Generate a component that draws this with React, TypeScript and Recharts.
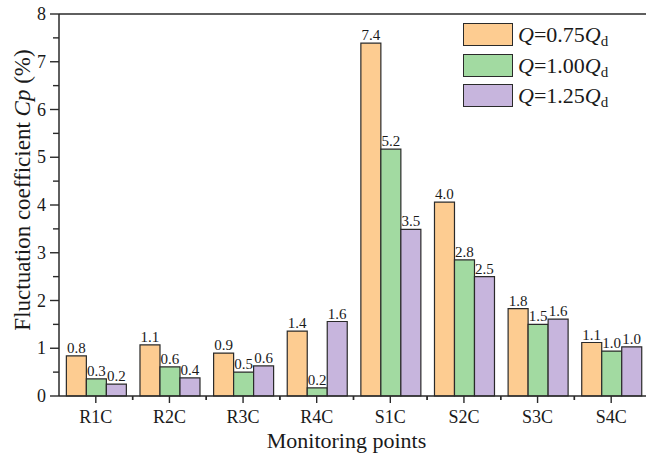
import React from 'react';
import { BarChart, Bar, XAxis, YAxis, LabelList, Legend, ReferenceLine } from 'recharts';

const categories = ['R1C', 'R2C', 'R3C', 'R4C', 'S1C', 'S2C', 'S3C', 'S4C'];
const q075 = [0.84, 1.07, 0.9, 1.36, 7.39, 4.06, 1.83, 1.12];
const q100 = [0.36, 0.61, 0.5, 0.17, 5.17, 2.85, 1.5, 0.94];
const q125 = [0.25, 0.38, 0.63, 1.56, 3.49, 2.5, 1.61, 1.03];
const q075Labels = ['0.8', '1.1', '0.9', '1.4', '7.4', '4.0', '1.8', '1.1'];
const q100Labels = ['0.3', '0.6', '0.5', '0.2', '5.2', '2.8', '1.5', '1.0'];
const q125Labels = ['0.2', '0.4', '0.6', '1.6', '3.5', '2.5', '1.6', '1.0'];
const yTicks = [0, 0.5, 1, 1.5, 2, 2.5, 3, 3.5, 4, 4.5, 5, 5.5, 6, 6.5, 7, 7.5, 8];
const seriesNames = ['0.75', '1.00', '1.25'];

const COLORS = ['#FDCC91', '#A2DAA1', '#C7B5DD'];
const STROKE = '#2a2a2a';
const FONT = '"Liberation Serif", "Times New Roman", serif';

const CHART_W = 660;
const CHART_H = 456;
const MARGIN = { top: 14, right: 12, left: 0, bottom: 0 };
const Y_W = 59;
const STEP = (CHART_W - MARGIN.left - MARGIN.right - Y_W) / categories.length;

const data = categories.map((c, i) => ({
  name: c,
  q075: q075[i],
  q100: q100[i],
  q125: q125[i],
  l075: q075Labels[i],
  l100: q100Labels[i],
  l125: q125Labels[i],
}));

const YTick = (props: any) => {
  const { x, y, payload } = props;
  const v = payload.value;
  const major = Number.isInteger(v);
  return (
    <g>
      <line x1={x - (major ? 9 : 6)} x2={x} y1={y} y2={y} stroke={STROKE} strokeWidth={1.4} />
      {major && (
        <text x={x - 13} y={y} textAnchor="end" dominantBaseline="central" fontFamily={FONT} fontSize={18} fill="#1a1a1a">
          {v}
        </text>
      )}
    </g>
  );
};

const XTick = (props: any) => {
  const { x, y, payload, index } = props;
  const half = STEP / 2;
  return (
    <g>
      <line x1={x} x2={x} y1={y} y2={y + 7} stroke={STROKE} strokeWidth={1.4} />
      {index > 0 && <line x1={x - half} x2={x - half} y1={y} y2={y + 4} stroke={STROKE} strokeWidth={1.4} />}
      <line x1={x + half} x2={x + half} y1={y} y2={y + 4} stroke={STROKE} strokeWidth={1.4} />
      <text x={x} y={y + 27} textAnchor="middle" fontFamily={FONT} fontSize={18} fill="#1a1a1a">
        {payload.value}
      </text>
    </g>
  );
};

const YLabel = (props: any) => {
  const vb = props.viewBox || { x: 0, y: 14, width: 59, height: 382 };
  const cx = 22;
  const cy = vb.y + vb.height / 2 - 15;
  return (
    <text
      x={cx}
      y={cy}
      transform={`rotate(-90, ${cx}, ${cy})`}
      textAnchor="middle"
      dominantBaseline="central"
      fontFamily={FONT}
      fontSize={23}
      fill="#1a1a1a"
    >
      Fluctuation coefficient <tspan fontStyle="italic">Cp</tspan> (%)
    </text>
  );
};

const XLabel = (props: any) => {
  const vb = props.viewBox || { x: 59, y: 396, width: 589, height: 60 };
  const cx = vb.x + vb.width / 2 - 7;
  return (
    <text x={cx} y={448} textAnchor="middle" fontFamily={FONT} fontSize={22} fill="#1a1a1a">
      Monitoring points
    </text>
  );
};

const LegendContent = () => (
  <div style={{ fontFamily: FONT, fontSize: 22, color: '#1a1a1a' }}>
    {seriesNames.map((n, i) => (
      <div key={n} style={{ display: 'flex', alignItems: 'center', height: 23, marginBottom: 7.5 }}>
        <div
          style={{
            width: 50,
            height: 23,
            boxSizing: 'border-box',
            background: COLORS[i],
            border: `1.5px solid ${STROKE}`,
          }}
        />
        <span style={{ marginLeft: 5, whiteSpace: 'nowrap', lineHeight: '23px' }}>
          <i>Q</i>={n}
          <i>Q</i>
          <sub style={{ fontSize: 15, verticalAlign: '-4px', lineHeight: 0 }}>d</sub>
        </span>
      </div>
    ))}
  </div>
);

export default function App() {
  return (
    <div
      style={{
        position: 'absolute',
        left: 0,
        top: 0,
        width: 646,
        height: 456,
        overflow: 'hidden',
        background: '#fff',
      }}
    >
      <BarChart
        width={CHART_W}
        height={CHART_H}
        data={data}
        margin={MARGIN}
        barCategoryGap="10%"
        barGap={0}
      >
        <XAxis
          dataKey="name"
          height={60}
          tickSize={0}
          tickMargin={0}
          tickLine={false}
          tick={<XTick />}
          interval={0}
          axisLine={{ stroke: STROKE, strokeWidth: 1.5 }}
          label={<XLabel />}
        />
        <YAxis
          width={Y_W}
          domain={[0, 8]}
          ticks={yTicks}
          interval={0}
          tickSize={0}
          tickMargin={0}
          tickLine={false}
          tick={<YTick />}
          axisLine={{ stroke: STROKE, strokeWidth: 1.5 }}
          label={<YLabel />}
        />
        <ReferenceLine y={8} stroke={STROKE} strokeWidth={1.5} />
        <Legend
          layout="horizontal"
          verticalAlign="middle"
          align="center"
          content={<LegendContent />}
          wrapperStyle={{ position: 'absolute', top: 23, left: 463, width: 200, height: 90 }}
        />
        <Bar dataKey="q075" fill={COLORS[0]} stroke={STROKE} strokeWidth={1.2} isAnimationActive={false}>
          <LabelList dataKey="l075" position="top" offset={3} fontFamily={FONT} fontSize={15} fill="#1a1a1a" />
        </Bar>
        <Bar dataKey="q100" fill={COLORS[1]} stroke={STROKE} strokeWidth={1.2} isAnimationActive={false}>
          <LabelList dataKey="l100" position="top" offset={3} fontFamily={FONT} fontSize={15} fill="#1a1a1a" />
        </Bar>
        <Bar dataKey="q125" fill={COLORS[2]} stroke={STROKE} strokeWidth={1.2} isAnimationActive={false}>
          <LabelList dataKey="l125" position="top" offset={3} fontFamily={FONT} fontSize={15} fill="#1a1a1a" />
        </Bar>
      </BarChart>
    </div>
  );
}
